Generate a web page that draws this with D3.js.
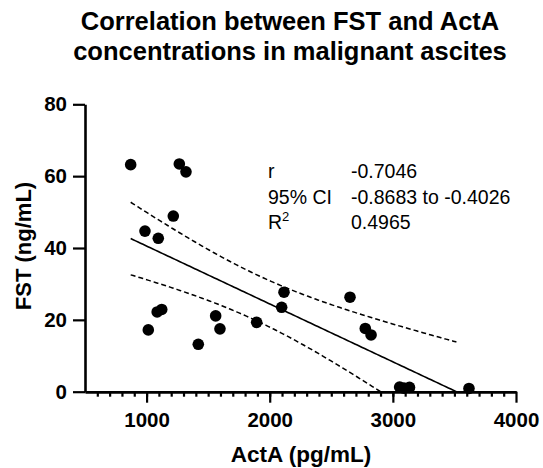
<!DOCTYPE html>
<html>
<head>
  <meta charset="utf-8">
  <script src="https://cdnjs.cloudflare.com/ajax/libs/d3/7.8.5/d3.min.js"></script>
  <style>
    body { margin: 0; background: #fff; }
    svg text { font-family: Arial, "Liberation Sans", Helvetica, sans-serif; fill: #000; }
  </style>
</head>
<body>
<script>
// values
var actA = [871, 987, 1095, 1217, 1266, 1320, 1014, 1086, 1123, 1420, 1561, 1596,
            1894, 2116, 2097, 2652, 2776, 2823, 3055, 3090, 3135, 3618];
var fst  = [63.2, 44.7, 42.7, 48.9, 63.4, 61.2, 17.2, 22.2, 22.9, 13.2, 21.1, 17.5,
            19.3, 27.7, 23.5, 26.3, 17.6, 15.8, 1.3, 1.0, 1.2, 0.9];

var xTicks = [1000, 2000, 3000, 4000];
var xMinor = d3.range(600, 4000, 100);
var yTicks = [0, 20, 40, 60, 80];

var statNames  = ["r", "95% CI", "R"];
var statValues = ["-0.7046", "-0.8683 to -0.4026", "0.4965"];

var titleLines = ["Correlation between FST and ActA", "concentrations in malignant ascites"];

var w = 543, h = 468;

const xScale = d3.scaleLinear().domain([500, 4000]).range([85, 516]);
const yScale = d3.scaleLinear().domain([0, 80]).range([391.7, 104.3]);

const svg = d3.select("body").append("svg")
  .attr("width", w)
  .attr("height", h);

// title
svg.selectAll(".title")
  .data(titleLines)
  .enter()
  .append("text")
  .attr("class", "title")
  .attr("x", 290)
  .attr("y", (d, i) => 30 + i * 29.5)
  .attr("text-anchor", "middle")
  .style("font-size", "25.5px")
  .style("font-weight", "bold")
  .text(d => d);

// linear regression + 95% confidence band of the mean
var n = actA.length;
var mx = d3.mean(actA), my = d3.mean(fst);
var sxx = 0, sxy = 0, syy = 0;
for (var i = 0; i < n; i++) {
  sxx += (actA[i] - mx) * (actA[i] - mx);
  sxy += (actA[i] - mx) * (fst[i] - my);
  syy += (fst[i] - my) * (fst[i] - my);
}
var slope = sxy / sxx;
var intercept = my - slope * mx;
var s = Math.sqrt((syy - sxy * sxy / sxx) / (n - 2));
var tCrit = 2.086; // t(0.975, df = 20)

var xStart = d3.min(actA);
var xEnd = -intercept / slope; // fit line reaches 0
var xs = d3.range(xStart, xEnd, 20).concat([xEnd]);

function fit(x) { return intercept + slope * x; }
function half(x) { return tCrit * s * Math.sqrt(1 / n + (x - mx) * (x - mx) / sxx); }

svg.append("clipPath")
  .attr("id", "plot-clip")
  .append("rect")
  .attr("x", 85).attr("y", 104.3)
  .attr("width", 431).attr("height", 287.4);

var line = d3.line()
  .x(d => xScale(d[0]))
  .y(d => yScale(d[1]));

var fitG = svg.append("g").attr("clip-path", "url(#plot-clip)");

fitG.append("path")
  .attr("d", line(xs.map(x => [x, fit(x)])))
  .attr("fill", "none")
  .attr("stroke", "#000")
  .attr("stroke-width", 1.6);

[1, -1].forEach(function(sign) {
  fitG.append("path")
    .attr("d", line(xs.map(x => [x, fit(x) + sign * half(x)])))
    .attr("fill", "none")
    .attr("stroke", "#000")
    .attr("stroke-width", 1.5)
    .attr("stroke-dasharray", "5,3");
});

// axes
const xAxisMinor = d3.axisBottom(xScale)
  .tickValues(xMinor)
  .tickSize(5)
  .tickSizeOuter(0)
  .tickFormat("");

const xAxis = d3.axisBottom(xScale)
  .tickValues(xTicks)
  .tickSize(11)
  .tickSizeOuter(0)
  .tickPadding(10)
  .tickFormat(d3.format("d"));

const yAxis = d3.axisLeft(yScale)
  .tickValues(yTicks)
  .tickSize(12)
  .tickSizeOuter(0)
  .tickPadding(6);

svg.append("g")
  .attr("transform", "translate(0," + yScale(0) + ")")
  .call(xAxisMinor);

svg.append("g")
  .attr("id", "x-axis")
  .attr("transform", "translate(0," + yScale(0) + ")")
  .call(xAxis);

svg.append("g")
  .attr("id", "y-axis")
  .attr("transform", "translate(" + xScale(500) + ",0)")
  .call(yAxis);

svg.selectAll(".domain")
  .attr("stroke", "#000")
  .attr("stroke-width", 2.6);
svg.selectAll(".tick line")
  .attr("stroke", "#000")
  .attr("stroke-width", 2.2);
svg.selectAll(".tick text")
  .style("font-size", "20.5px")
  .style("font-weight", "bold")
  .style("font-family", "Arial, 'Liberation Sans', sans-serif")
  .attr("fill", "#000");

// axis titles
svg.append("text")
  .attr("x", 301)
  .attr("y", 462)
  .attr("text-anchor", "middle")
  .style("font-size", "22.5px")
  .style("font-weight", "bold")
  .text("ActA (pg/mL)");

svg.append("text")
  .attr("transform", "translate(31,246) rotate(-90)")
  .attr("text-anchor", "middle")
  .style("font-size", "22px")
  .style("font-weight", "bold")
  .text("FST (ng/mL)");

// points
svg.selectAll("circle")
  .data(actA)
  .enter()
  .append("circle")
  .attr("cx", d => xScale(d))
  .attr("cy", (d, i) => yScale(fst[i]))
  .attr("r", 5.8)
  .attr("fill", "#000");

// stats box
var stats = svg.append("g").style("font-size", "19.5px");
statNames.forEach(function(name, i) {
  var t = stats.append("text")
    .attr("x", 268)
    .attr("y", 178 + i * 25.5)
    .text(name);
  if (name == "R") {
    t.append("tspan")
      .attr("dy", -8)
      .style("font-size", "13px")
      .text("2");
  }
  stats.append("text")
    .attr("x", 351)
    .attr("y", 178 + i * 25.5)
    .text(statValues[i]);
});
</script>
</body>
</html>
